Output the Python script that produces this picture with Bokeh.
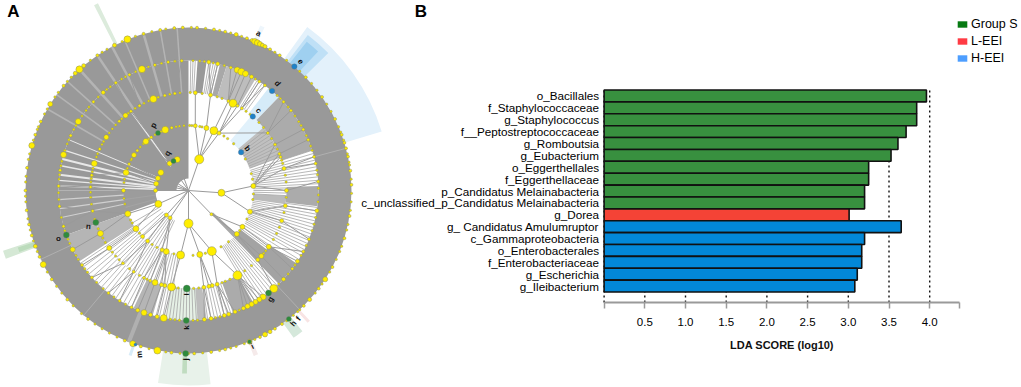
import numpy as np
from bokeh.embed import file_html
from bokeh.resources import INLINE
from bokeh.plotting import figure
from bokeh.models import Range1d, FixedTicker, Legend, LegendItem, ColumnDataSource, NumeralTickFormatter, LinearAxis
from bokeh.core.properties import value

# ---------- Panel B data ----------
taxa = ["o_Bacillales", "f_Staphylococcaceae", "g_Staphylococcus", "f__Peptostreptococcaceae",
        "g_Romboutsia", "g_Eubacterium", "o_Eggerthellales", "f_Eggerthellaceae",
        "p_Candidatus Melainabacteria", "c_unclassified_p_Candidatus Melainabacteria", "g_Dorea",
        "g_ Candidatus Amulumruptor", "c_Gammaproteobacteria", "o_Enterobacterales",
        "f_Enterobacteriaceae", "g_Escherichia", "g_Ileibacterium"]
lda = [3.96, 3.84, 3.84, 3.71, 3.61, 3.525, 3.25, 3.25, 3.20, 3.20, 3.01, 3.65, 3.20, 3.165, 3.165, 3.11, 3.08]
group = ["S"] * 10 + ["L"] + ["H"] * 6
bar_colors = {"S": "#38903f", "L": "#f44336", "H": "#0288d8"}
legend_names = ["Group S", "L-EEI", "H-EEI"]
legend_colors = ["#067a12", "#ff3b44", "#4d9eff"]
tick_vals = [0, 0.5, 1.0, 1.5, 2.0, 2.5, 3.0, 3.5, 4.0, 4.36]
grid_vals = [0, 0.5, 1.0, 1.5, 2.0, 2.5, 3.0, 3.5, 4.0]

# ---------- Panel A data (angles clockwise from top, degrees) ----------
R1, R2, R3, R4, R5 = 33, 65, 98, 130, 163
ring1_t = [19, 94, 136, 180, 340, 325, 303, 292, 282, 270, 246, 222, 214]
ring1_s = [9, 7, 3, 9, 6, 5, 6, 5, 5, 4, 7, 4, 4]
ring2_t = [6, 16, 23, 28, 86, 109, 124, 132, 159, 170, 187, 200, 204, 219, 225, 234, 249, 270, 286, 294, 303, 308, 319, 325, 339, 345]
ring2_s = [4, 5, 8, 4, 5, 5, 5, 5, 9, 6, 8, 6, 4, 4, 4, 6, 6, 4, 6, 3, 5, 3, 6, 3, 7, 3]
ring3_t = [4, 13, 27, 24, 30, 33, 54, 62, 68, 70, 77, 90, 99, 108, 125, 132, 135, 150, 163, 166, 168, 171, 190, 194, 196, 200, 203, 207, 214, 222, 234, 244, 258, 272, 279, 286, 295, 303, 315, 320, 324, 330, 339, 346, 352]
ring3_s = [4, 4, 8, 3, 3, 3, 3, 3, 3, 3, 4, 4, 4, 4, 5, 5, 4, 9, 4, 4, 4, 4, 8, 4, 4, 6, 3, 3, 3, 3, 5, 6, 3, 3, 3, 6, 3, 5, 3, 5, 3, 3, 7, 3, 3]
ring4_t = [9, 13, 19, 22, 24, 26, 29, 33, 36, 47, 52, 62, 67, 75, 78, 86, 99, 112, 118, 123, 127, 133, 139, 145, 147, 149, 151, 153, 155, 159, 162, 164, 170, 173, 191, 194, 197, 200, 203, 206, 212, 218, 228, 235, 243, 254, 263, 272, 279, 286, 295, 302, 313, 319, 326, 333, 339, 345, 351, 357]
ring4_s = [4, 4, 3, 6, 7, 6, 4, 3, 3, 3, 3, 3, 3, 3, 3, 3, 4, 3, 3, 4, 3, 4, 8, 6, 5, 5, 5, 5, 4, 4, 4, 4, 4, 4, 7, 4, 4, 6, 4, 3, 3, 3, 3, 3, 5, 3, 3, 3, 3, 6, 3, 6, 3, 4, 3, 3, 7, 3, 3, 3]
ring5_t = [3, 9, 13, 17, 21, 23, 24, 25, 26, 27, 28, 30, 34, 46, 55, 64, 70, 73, 75, 78, 83, 88, 99, 107, 118, 123, 127, 132, 135, 145, 148, 150, 152, 154, 158, 167, 172, 178, 186, 191, 197, 200, 203, 218, 228, 237, 243, 246, 250, 254, 258, 263, 270, 278, 286, 290, 295, 302, 310, 316, 318, 320, 326, 333, 338, 344, 350, 355, 358]
ring5_s = [3, 3, 3, 4, 3, 4, 6, 6, 5, 4, 4, 3, 3, 3, 3, 3, 3, 3, 3, 3, 3, 3, 3, 3, 3, 5, 3, 4, 3, 3, 3, 4, 5, 3, 5, 3, 3, 3, 3, 7, 3, 6, 3, 3, 3, 3, 6, 3, 4, 3, 3, 3, 3, 3, 6, 3, 3, 5, 3, 4, 7, 4, 3, 4, 7, 3, 3, 3, 3]

# the many tiny nodes that dot the rings
tiny2_t = [1, 3, 10, 12, 33, 37, 44, 61, 75, 80, 93, 98, 116, 128, 142, 150, 165, 176, 193, 209, 214, 229, 240, 243, 258, 263, 277, 280, 290, 298, 299, 312, 316, 322, 329, 335, 349, 352, 356]
tiny3_t = [1, 8, 17, 20, 36, 39, 46, 50, 58, 65, 72, 74, 81, 85, 94, 103, 112, 116, 120, 128, 130, 140, 145, 155, 158, 160, 174, 177, 186, 188, 205, 210, 217, 225, 228, 231, 238, 241, 247, 253, 262, 266, 269, 275, 277, 281, 283, 290, 292, 298, 300, 306, 309, 312, 317, 322, 327, 333, 336, 342, 349, 355]
tiny4_t = [2, 5, 7, 11, 16, 31, 39, 43, 45, 50, 55, 58, 60, 65, 70, 72, 81, 83, 89, 92, 95, 102, 105, 108, 115, 120, 125, 130, 136, 157, 166, 168, 176, 178, 184, 186, 188, 209, 215, 221, 225, 231, 233, 238, 240, 246, 248, 250, 252, 258, 266, 269, 275, 277, 281, 283, 288, 291, 293, 298, 300, 305, 308, 310, 316, 321, 323, 329, 331, 336, 342, 348, 354]
tiny5_t = [1, 6, 11, 15, 19, 32, 37, 40, 43, 49, 52, 58, 61, 67, 69, 72, 77, 80, 81, 86, 91, 94, 97, 102, 104, 110, 112, 115, 120, 125, 129, 137, 138, 140, 143, 156, 160, 163, 165, 169, 175, 180, 183, 188, 194, 199, 206, 209, 212, 215, 221, 225, 231, 234, 240, 248, 252, 256, 260, 266, 268, 273, 275, 281, 283, 288, 292, 293, 298, 300, 305, 307, 312, 314, 323, 328, 330, 336, 341, 347, 352]

mark_t = [54, 41, 40, 40.5, 142, 142, 158, 181, 181, 181, 199, 251, 250, 332, 333]
mark_r = [R2, R3, R4, R5, R4, R5, R5, R5, R4, R3, R5, R3, R4, R2, R1]
mark_c = ["#1f82c8"] * 4 + ["#2e8b3c"] * 5 + ["#2e8b3c", "#1f82c8"] + ["#2e8b3c"] * 4
mark_s = [5.5, 5.5, 5.5, 5.5, 6, 5, 4, 6, 6, 7, 3, 6, 6, 5, 5]

letters = ["a", "b", "c", "d", "e", "g", "f", "h", "i", "j", "k", "l", "m", "n", "o", "p", "q"]
letter_x = [258, 247, 258, 277, 300, 270, 298, 293, 252, 185, 186, 186, 139, 88, 58, 153, 167]
letter_y = [33, 148, 110, 83, 61, 299, 318, 323, 346, 359, 327, 294, 354, 226, 238, 125, 153]
letter_a = [-25, -50, -50, -50, -50, 60, 50, 50, 25, 90, 90, 90, 95, -5, 0, 60, 60]

bg_t0 = [36, 37.5, 38.5, 40, 38, 333, 23.5, 249.5, 250, 173.5, 180.5, 173, 141, 137, 157, 199]
bg_t1 = [73, 45.5, 43, 58, 44, 334.2, 25, 252, 251.5, 189, 182, 190, 144.5, 138, 158.5, 200]
bg_r0 = [163, 163, 163, 65, 98, 163, 163, 163, 163, 163, 163, 98, 163, 163, 163, 163]
bg_r1 = [202, 196, 190, 98, 130, 208, 180, 195, 180, 195, 183, 130, 181, 178, 178, 175]
bg_c = ["#e3f1fb", "#bfe0f6", "#9fd0f0", "#e1f1fb", "#d5ebf8", "#dcebdc", "#eef6fc", "#d5e8d5", "#bcdcbc",
        "#e8f2ea", "#c0dcc0", "#e6f1e6", "#d5e8db", "#f8e4e4", "#f5eaea", "#d8ecf8"]

sec_t0 = [0, 250, 270, 4, 14, 17, 44, 88, 124, 150, 172, 196, 237, 127, 132, 50, 93, 237]
sec_t1 = [360, 270, 360, 8, 17, 31, 72, 97, 136, 160, 176, 205, 250, 136, 136, 70, 98, 250]
sec_r0 = [130, 33, 12, 98, 98, 98, 98, 98, 98, 98, 98, 98, 98, 65, 33, 65, 65, 65]
sec_r1 = [163, 130, 130, 130, 130, 130, 130, 130, 130, 130, 130, 130, 130, 98, 65, 98, 98, 98]
sec_c = ["#999999", "#9c9c9c", "#999999", "#999999", "#a8a8a8", "#bdbdbd", "#ababab", "#ababab", "#a3a3a3",
         "#ababab", "#bdbdbd", "#b5b5b5", "#b5b5b5", "#a3a3a3", "#a8a8a8", "#c0c0c0", "#bbbbbb", "#b8b8b8"]

# light streaks inside the grey sectors
str_t = [272, 274.5, 277, 281, 284, 288, 293, 324, 258, 262, 266, 300, 306, 312, 318, 326, 332, 337, 344, 350, 356, 75, 137, 201.5, 220, 245]
str_r0 = [33, 33, 33, 33, 33, 33, 33, 30, 65, 65, 65, 98, 98, 98, 98, 98, 98, 98, 98, 98, 98, 130, 130, 130, 130, 130]
str_r1 = [130, 130, 130, 130, 130, 130, 130, 96, 130, 130, 130, 163, 163, 163, 163, 163, 163, 163, 163, 163, 163, 163, 163, 163, 163, 163]
str_w = [1.5, 1.2, 2, 1.5, 2, 1.2, 1, 1.5, 1.2, 1.2, 1.2, 1.5, 1.5, 1.5, 2.5, 2.5, 2.5, 1.5, 2.5, 1.5, 1.5, 1, 1, 4, 1, 1]
str_c = ["#e8e8e8"] * 8 + ["#d0d0d0"] * 3 + ["#b4b4b4"] * 10 + ["#b0b0b0"] * 5

spoke_12 = [205, 208, 211, 214, 217, 220, 226, 230, 236, 240, 255, 262]
spoke_23 = [52, 54, 56, 58, 60, 62, 64, 66, 68, 70, 72, 73.5, 75, 76.5, 78, 79.5, 81, 82.5, 84, 85.5, 87, 88.5, 90, 91.5, 93, 99, 100.5, 102, 103.5, 105, 106.5,
            108, 109.5, 111, 112.5, 114, 115.5, 117, 118.5, 120, 122, 124, 126, 137, 138.5, 140, 141.5, 143, 144.5, 146, 147.5, 149, 189, 191, 193, 195, 197, 199, 201,
            203, 205, 207, 209, 211, 213, 215, 217, 219, 221, 223, 225, 227, 229, 231, 233, 235, 236]
spoke_34 = [1, 2, 3, 9, 10, 11, 12, 13, 32, 33, 34.5, 36, 72, 73.5, 75, 76.5, 78, 79.5, 81, 82.5, 84, 85.5, 87, 97.5, 99, 100.5, 102, 103.5, 105, 106.5, 108, 109.5, 111, 112.5, 114,
            115.5, 117, 118.5, 120, 122, 137, 138.5, 140, 141.5, 143, 144.5, 146, 147.5, 149, 161, 162.5, 164, 165.5, 167, 168.5, 170, 171.5, 176.5, 178, 179.5, 181,
            182.5, 184, 185.5, 187, 188.5, 190, 191.5, 193, 194.5, 206, 208, 210, 212, 214, 216, 218, 220, 222, 224, 226, 228, 230, 232, 234, 236]


def xy(t, r):
    a = np.radians(np.asarray(t, dtype=float))
    return np.asarray(r) * np.sin(a), np.asarray(r) * np.cos(a)


def wedges(p, t0, t1, r0, r1, col):
    p.annular_wedge(x=0, y=0, inner_radius=r0, outer_radius=r1,
                    start_angle=np.radians(90 - np.asarray(t1, float)),
                    end_angle=np.radians(90 - np.asarray(t0, float)),
                    fill_color=col, line_color=None)


def nearest(t, parents):
    d = np.abs((np.asarray(parents) - t + 180) % 360 - 180)
    return parents[int(np.argmin(d))]


W, H = 1021, 387
CX, CY = 188, 190
PX = 81.4   # pixels per LDA unit
PY = 11.88  # pixels per bar
X0, Y0 = 603.6, 291.5  # picture pixel of LDA 0 / of the bottom of the last bar
AXIS_Y = -0.884

a = figure(width=W, height=H, x_range=Range1d(-CX, W - CX), y_range=Range1d(CY - H, CY),
           extra_x_ranges={"lda": Range1d(-X0 / PX, (W - X0) / PX)},
           extra_y_ranges={"bars": Range1d((Y0 - H) / PY, Y0 / PY)},
           output_backend="svg", toolbar_location=None, x_axis_location=None, y_axis_location=None,
           min_border=0, outline_line_color=None)
a.grid.visible = False

wedges(a, bg_t0, bg_t1, bg_r0, bg_r1, bg_c)
wedges(a, sec_t0, sec_t1, sec_r0, sec_r1, sec_c)

x0, y0 = xy(str_t, str_r0)
x1, y1 = xy(str_t, str_r1)
a.segment(x0, y0, x1, y1, line_color=str_c, line_width=str_w)

for lst, ri, ro, col in [(spoke_12, R1, R2, "#a6a6a6"), (spoke_23, R2, R3, "#a6a6a6"), (spoke_34, R3, R4, "#a6a6a6")]:
    x0, y0 = xy(lst, ri)
    x1, y1 = xy(lst, ro)
    a.segment(x0, y0, x1, y1, line_color=col, line_width=0.8)

# tree edges: each node joins the nearest node of the ring inside it
rings = [(ring1_t, R1), (ring2_t, R2), (ring3_t, R3), (ring4_t, R4)]
x1, y1 = xy(ring1_t, R1)
a.segment(np.zeros(len(ring1_t)), np.zeros(len(ring1_t)), x1, y1, line_color="#9a9a9a", line_width=1)
for (inner, ri), (outer, ro) in zip(rings[:-1], rings[1:]):
    par = [nearest(t, inner) for t in outer]
    x0, y0 = xy(par, ri)
    x1, y1 = xy(outer, ro)
    a.segment(x0, y0, x1, y1, line_color="#9a9a9a", line_width=1)

for tl, r in [(tiny2_t, R2), (tiny3_t, R3), (tiny4_t, R4), (tiny5_t, R5)]:
    x, y = xy(tl, r)
    a.scatter(x, y, size=2.4, fill_color="#ece000", line_color="#8a8a70", line_width=0.4)

for tl, sl, r in [(ring1_t, ring1_s, R1), (ring2_t, ring2_s, R2), (ring3_t, ring3_s, R3),
                  (ring4_t, ring4_s, R4), (ring5_t, ring5_s, R5)]:
    x, y = xy(tl, r)
    a.scatter(x, y, size=sl, fill_color="#ffee00", line_color="#8c8c60", line_width=0.5)

x, y = xy(mark_t, mark_r)
a.scatter(x, y, size=mark_s, fill_color=mark_c, line_color="#777777", line_width=0.3)

a.text(np.array(letter_x) - CX, CY - np.array(letter_y), text=letters, angle=np.radians(letter_a),
       text_font=value("Liberation Sans"), text_font_size="8px", text_font_style="bold", text_color="#111111",
       text_align="center", text_baseline="middle")
a.text([13 - CX, 420.5 - CX], [CY - 11, CY - 11], text=["A", "B"], text_font=value("Liberation Sans"),
       text_font_size="17px", text_font_style="bold", text_color="black", text_align="center", text_baseline="middle")

# ---------- Panel B ----------
n = len(taxa)
ys = [n - 1 - i + 0.5 for i in range(n)]
a.segment(grid_vals, [AXIS_Y] * len(grid_vals), grid_vals, [n] * len(grid_vals), x_range_name="lda", y_range_name="bars",
          line_color="#111111", line_dash="2 3", line_width=1.4)

src = ColumnDataSource(dict(y=ys, right=lda, color=[bar_colors[g] for g in group]))
a.hbar(y="y", left=0, right="right", height=1, source=src, x_range_name="lda", y_range_name="bars",
       fill_color="color", line_color="#111111", line_width=1.6)

ax = LinearAxis(x_range_name="lda", y_range_name="bars", fixed_location=0, bounds=(0, n))
ax.ticker = FixedTicker(ticks=ys)
ax.major_label_overrides = {y: t for y, t in zip(ys, taxa)}
ax.axis_line_color = None
ax.major_tick_line_color = None
ax.major_tick_out = 0
ax.major_tick_in = 0
ax.major_label_standoff = 5
ax.major_label_text_font = "Liberation Sans"
ax.major_label_text_font_size = "11.7px"
ax.major_label_text_color = "#000000"
a.add_layout(ax, "left")

bx = LinearAxis(x_range_name="lda", y_range_name="bars", fixed_location=AXIS_Y, bounds=(0, 4.36))
bx.ticker = FixedTicker(ticks=tick_vals)
bx.formatter = NumeralTickFormatter(format="0.0")
bx.major_label_overrides = {0: "", 4.36: ""}
bx.axis_line_color = "#9a9a9a"
bx.axis_line_width = 2
bx.major_tick_line_color = "#9a9a9a"
bx.major_tick_line_width = 1.5
bx.major_tick_in = 0
bx.major_tick_out = 6
bx.major_label_standoff = 9
bx.major_label_text_font = "Liberation Sans"
bx.major_label_text_font_size = "11.5px"
bx.major_label_text_color = "#000000"
bx.axis_label = "LDA SCORE (log10)"
bx.axis_label_text_font = "Liberation Sans"
bx.axis_label_text_font_size = "11px"
bx.axis_label_text_font_style = "bold"
bx.axis_label_text_color = "#111111"
bx.axis_label_standoff = 10
a.add_layout(bx, "below")

items = []
for name, col in zip(legend_names, legend_colors):
    r = a.hbar(y=[float("nan")], left=[0], right=[0], height=1, x_range_name="lda", y_range_name="bars",
               fill_color=col, line_color=None)
    items.append(LegendItem(label=name, renderers=[r]))
leg = Legend(items=items, location=(956, 322), background_fill_alpha=0, border_line_color=None,
             glyph_width=12, glyph_height=8, spacing=3, padding=0, margin=0, label_standoff=3,
             label_text_font="Liberation Sans", label_text_font_size="12.5px", label_text_color="#000000",
             label_height=8, label_width=40)
a.add_layout(leg, "center")

open("out.html", "w").write(file_html(a, INLINE))
